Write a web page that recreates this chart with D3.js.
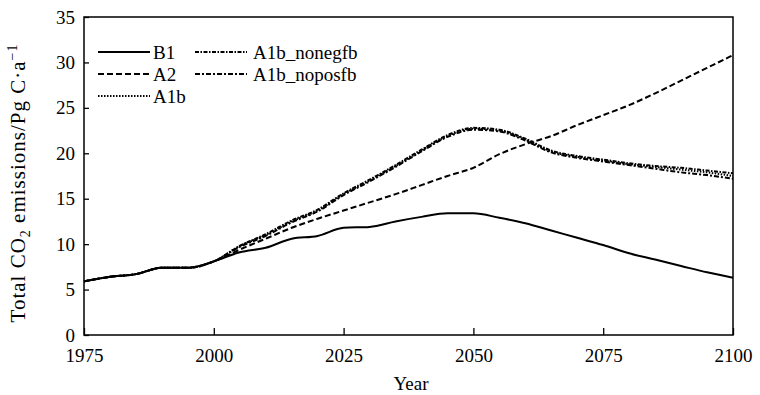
<!DOCTYPE html>
<html>
<head>
<meta charset="utf-8">
<script src="https://cdn.jsdelivr.net/npm/d3@7"></script>
<style>
  body { margin: 0; background: #fff; }
  text { font-family: "Liberation Serif", "DejaVu Serif", serif; fill: #000; }
</style>
</head>
<body>
<script>
// data, 5-year steps
var years = [1975, 1980, 1985, 1990, 1995, 2000, 2005, 2010, 2015, 2020, 2025, 2030, 2035, 2040, 2045, 2050,
             2055, 2060, 2065, 2070, 2075, 2080, 2085, 2090, 2095, 2100];
var b1 =      [5.9, 6.4, 6.7, 7.4, 7.4, 8.1, 9.1, 9.6, 10.6, 10.9, 11.8, 11.9, 12.5, 13.0, 13.4, 13.4,
               12.9, 12.3, 11.5, 10.7, 9.9, 9.0, 8.3, 7.6, 6.9, 6.3];
var a2 =      [5.9, 6.4, 6.7, 7.4, 7.4, 8.1, 9.4, 10.6, 11.8, 12.8, 13.7, 14.6, 15.5, 16.5, 17.5, 18.4,
               19.9, 21.0, 21.9, 23.1, 24.2, 25.3, 26.6, 28.0, 29.4, 30.8];
var a1b =     [5.9, 6.4, 6.7, 7.4, 7.4, 8.1, 9.8, 11.0, 12.5, 13.7, 15.5, 17.0, 18.6, 20.3, 21.9, 22.7,
               22.5, 21.5, 20.2, 19.6, 19.2, 18.8, 18.5, 18.2, 17.9, 17.5];
var a1bNoneg = [5.9, 6.4, 6.7, 7.4, 7.4, 8.1, 9.8, 11.1, 12.6, 13.8, 15.6, 17.1, 18.7, 20.4, 22.0, 22.8,
               22.6, 21.6, 20.3, 19.7, 19.3, 18.9, 18.6, 18.4, 18.1, 17.8];
var a1bNopos = [5.9, 6.4, 6.7, 7.4, 7.4, 8.1, 9.7, 10.9, 12.4, 13.6, 15.4, 16.9, 18.5, 20.2, 21.8, 22.6,
               22.4, 21.4, 20.1, 19.5, 19.1, 18.7, 18.3, 17.9, 17.6, 17.2];

var xTicks = [1975, 2000, 2025, 2050, 2075, 2100];
var yTicks = [0, 5, 10, 15, 20, 25, 30, 35];

var series = [
  { name: "B1", values: b1, dash: null },
  { name: "A2", values: a2, dash: "6,3" },
  { name: "A1b", values: a1b, dash: "1.5,1.5" },
  { name: "A1b_nonegfb", values: a1bNoneg, dash: "4,1.5,1.5,1.5" },
  { name: "A1b_noposfb", values: a1bNopos, dash: "5,2,2,2" }
];

var margin = { top: 17, right: 27, bottom: 60, left: 84 },
    width = 760 - margin.left - margin.right,
    height = 395 - margin.top - margin.bottom;

var svg = d3.select("body").append("svg")
    .attr("width", 760)
    .attr("height", 395);

var g = svg.append("g")
    .attr("transform", "translate(" + margin.left + "," + margin.top + ")");

var xScale = d3.scaleLinear().domain([1975, 2100]).range([0, width]);
var yScale = d3.scaleLinear().domain([0, 35]).range([height, 0]);

// frame
g.append("rect")
    .attr("width", width)
    .attr("height", height)
    .attr("fill", "none")
    .attr("stroke", "#000")
    .attr("stroke-width", 1.5);

// axes with inward ticks
var xAxis = d3.axisBottom(xScale).tickValues(xTicks).tickFormat(d3.format("d"))
    .tickSizeInner(-7).tickSizeOuter(0).tickPadding(14);
var yAxis = d3.axisLeft(yScale).tickValues(yTicks)
    .tickSizeInner(-5).tickSizeOuter(0).tickPadding(9);

var gx = g.append("g")
    .attr("transform", "translate(0," + height + ")")
    .call(xAxis);
var gy = g.append("g").call(yAxis);

[gx, gy].forEach(function (a) {
  a.select(".domain").remove();
  a.selectAll(".tick line").attr("stroke", "#000").attr("stroke-width", 1.3);
  a.selectAll(".tick text").attr("font-size", 19).attr("font-family", "Liberation Serif");
});

// lines
var line = d3.line()
    .x(function (d) { return xScale(d[0]); })
    .y(function (d) { return yScale(d[1]); })
    .curve(d3.curveMonotoneX);

g.append("g").selectAll("path")
    .data(series.slice().reverse())
    .enter().append("path")
    .attr("d", function (s) { return line(years.map(function (y, i) { return [y, s.values[i]]; })); })
    .attr("fill", "none")
    .attr("stroke", "#000")
    .attr("stroke-width", 2)
    .attr("stroke-dasharray", function (s) { return s.dash; });

// legend, two columns
var legendPos = [[14, 35], [14, 57], [14, 79], [111, 35], [111, 57]];
var leg = g.append("g").selectAll("g")
    .data(series)
    .enter().append("g")
    .attr("transform", function (s, i) { return "translate(" + legendPos[i][0] + "," + legendPos[i][1] + ")"; });

leg.append("line")
    .attr("x1", 0).attr("x2", 52)
    .attr("stroke", "#000")
    .attr("stroke-width", 2)
    .attr("stroke-dasharray", function (s) { return s.dash; });

leg.append("text")
    .attr("x", function (s, i) { return i < 3 ? 55 : 58; })
    .attr("dy", "0.35em")
    .attr("font-size", 19)
    .text(function (s) { return s.name; });

// axis titles
svg.append("text")
    .attr("x", 411)
    .attr("y", 390)
    .attr("text-anchor", "middle")
    .attr("font-size", 19)
    .text("Year");

var yt = svg.append("text")
    .attr("transform", "translate(25,183) rotate(-90)")
    .attr("text-anchor", "middle")
    .attr("font-size", 21)
    .attr("letter-spacing", 1);
yt.append("tspan").text("Total CO");
yt.append("tspan").attr("font-size", 14).attr("dy", 5).text("2");
yt.append("tspan").attr("dy", -5).text(" emissions/Pg C\u00b7a");
yt.append("tspan").attr("font-size", 14).attr("dy", -8).text("\u22121");
</script>
</body>
</html>
